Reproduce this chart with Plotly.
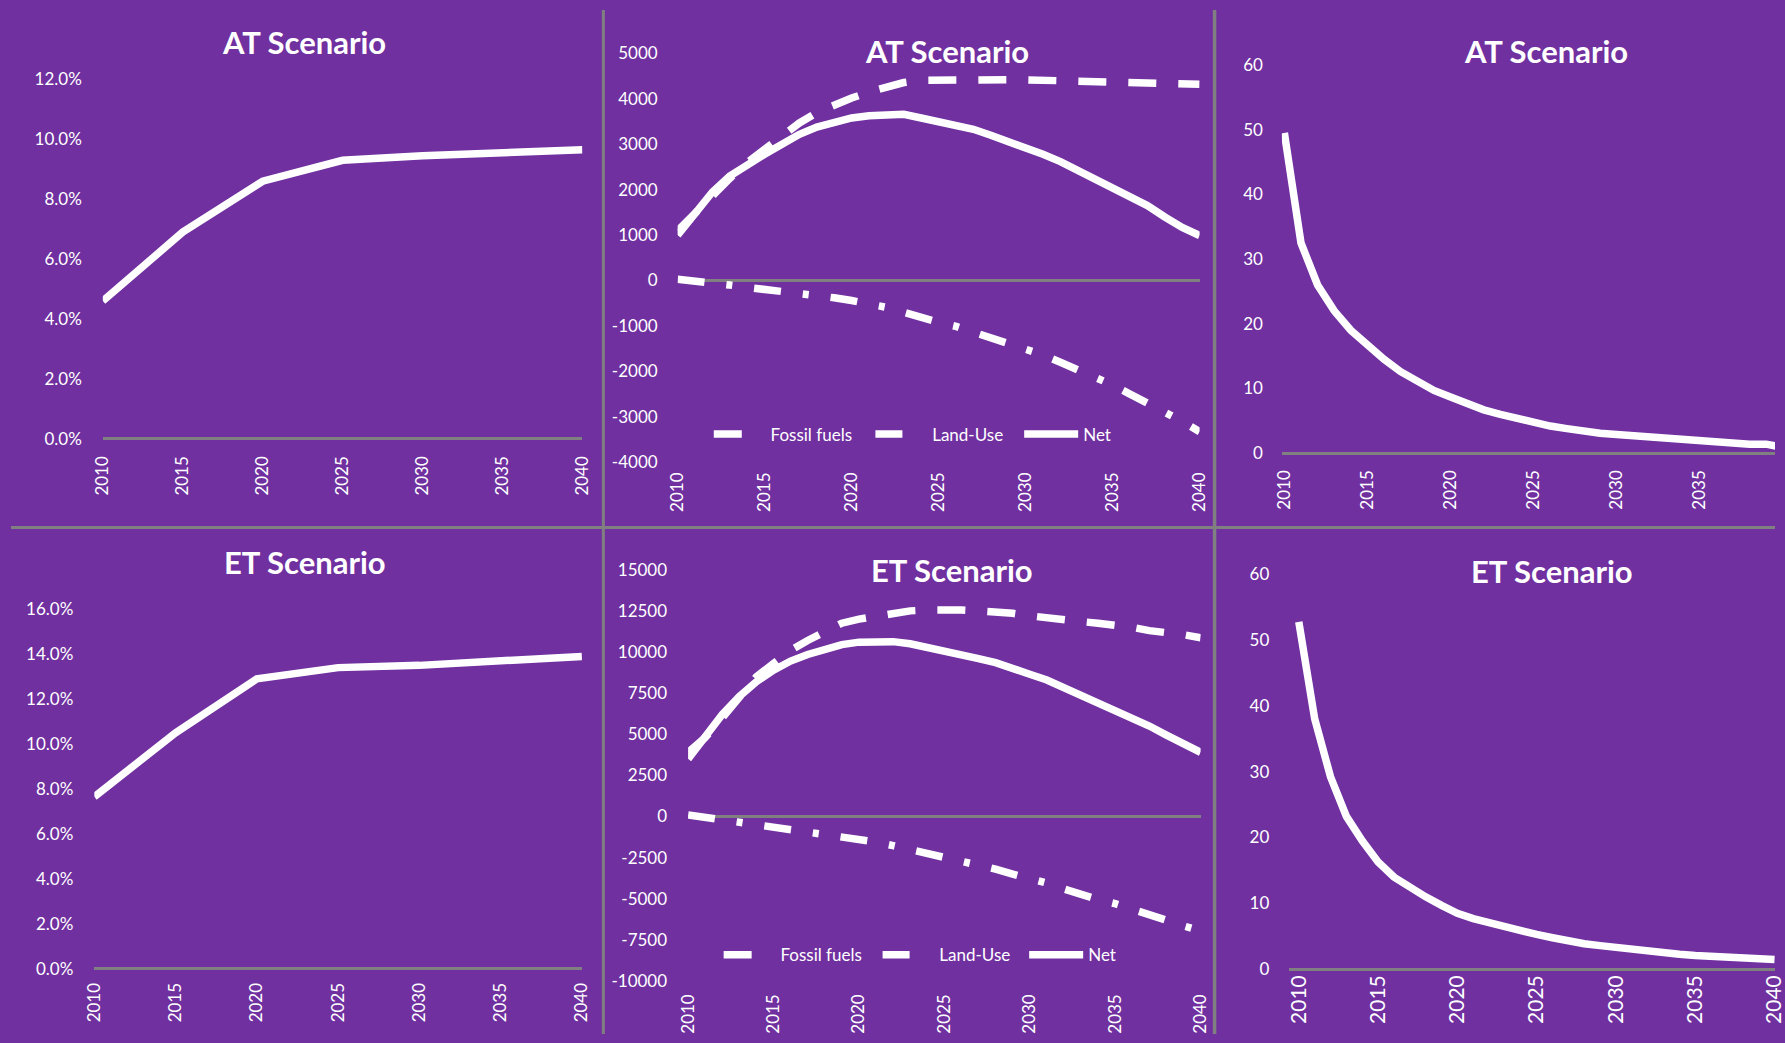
import plotly.graph_objects as go

# Figure fills the window; the page adds an 8px body margin and the capture is
# rescaled, so reference pixel positions are mapped through SX/SY and OFF.
W, H = 1785, 1043
OFF = 8
SX = (W + 2 * OFF) / W
SY = (H + 2 * OFF) / H
PURPLE = "#7030A0"
GRAY = "#808080"
FONT = "Lato"

# ---------------- data ----------------
years5 = [2010, 2015, 2020, 2025, 2030, 2035, 2040]
years = list(range(2010, 2041))

at_share = [0.046, 0.069, 0.086, 0.093, 0.0945, 0.0955, 0.0965]
et_share = [0.0765, 0.105, 0.129, 0.134, 0.135, 0.137, 0.139]

at_fossil = [1100, 1500, 1850, 2250, 2600, 2900, 3200, 3470, 3700, 3880, 4020, 4150, 4270,
             4360, 4410, 4420, 4420, 4420, 4420, 4420, 4420, 4410, 4400, 4390, 4380, 4380,
             4380, 4370, 4360, 4340, 4320]
at_landuse = [30, 0, -60, -100, -150, -190, -230, -270, -320, -380, -440, -510, -590, -700,
              -830, -920, -1010, -1130, -1250, -1380, -1500, -1640, -1800, -1960, -2130,
              -2300, -2500, -2720, -2900, -3100, -3330]
at_net = [1000, 1500, 1950, 2300, 2550, 2780, 3000, 3220, 3380, 3500, 3580, 3630, 3660, 3660,
          3580, 3500, 3420, 3330, 3200, 3070, 2930, 2780, 2620, 2430, 2250, 2050, 1850, 1650,
          1400, 1170, 990]

et_fossil = [3900, 4800, 6000, 7300, 8500, 9300, 10100, 10700, 11200, 11750, 12000, 12200,
             12400, 12500, 12550, 12600, 12550, 12500, 12450, 12350, 12200, 12050, 12000,
             11850, 11750, 11650, 11500, 11300, 11200, 11050, 10870]
et_landuse = [100, -50, -200, -320, -450, -600, -720, -850, -1000, -1150, -1330, -1550, -1770,
              -2000, -2200, -2450, -2650, -2900, -3200, -3500, -3750, -4050, -4400, -4750,
              -5050, -5300, -5600, -5950, -6300, -6650, -6950]
et_net = [3500, 4900, 6200, 7300, 8200, 8900, 9450, 9850, 10200, 10450, 10600, 10650, 10630,
          10500, 10300, 10100, 9850, 9600, 9350, 9050, 8650, 8300, 7850, 7350, 6900, 6450,
          6000, 5500, 4950, 4400, 3900]

at_ratio = [49.5, 32.5, 26.0, 22.0, 19.0, 16.6, 14.5, 12.6, 11.0, 9.7, 8.7, 7.6, 6.7, 6.0, 5.3,
            4.6, 4.2, 3.8, 3.4, 3.1, 2.9, 2.7, 2.5, 2.3, 2.1, 1.8, 1.6, 1.6, 1.4, 1.4, 0.9]
et_ratio = [52.7, 38.0, 29.2, 23.2, 19.5, 16.3, 14.0, 12.4, 11.0, 9.7, 8.5, 7.7, 7.1, 6.3, 5.8,
            5.3, 4.8, 4.3, 3.9, 3.6, 3.3, 3.0, 2.8, 2.5, 2.3, 2.1, 2.0, 1.8, 1.6, 1.6, 1.5]

x_ticks = [2010, 2015, 2020, 2025, 2030, 2035, 2040]
share_at_ticks = [0, 0.02, 0.04, 0.06, 0.08, 0.10, 0.12]
share_et_ticks = [0, 0.02, 0.04, 0.06, 0.08, 0.10, 0.12, 0.14, 0.16]
em_at_ticks = [-4000, -3000, -2000, -1000, 0, 1000, 2000, 3000, 4000, 5000]
em_at_text = ["-4000", "-3000", "-2000", "-1000", "0", "1000", "2000", "3000", "4000", "5000"]
em_et_ticks = [-10000, -7500, -5000, -2500, 0, 2500, 5000, 7500, 10000, 12500, 15000]
em_et_text = ["-10000", "-7500", "-5000", "-2500", "0", "2500", "5000", "7500", "10000",
              "12500", "15000"]
ratio_ticks = [0, 10, 20, 30, 40, 50, 60]
series_names = ["Fossil fuels", "Land-Use", "Net"]
titles = ["AT Scenario", "ET Scenario"]


# ---------------- geometry helpers (inputs in reference pixels) ----------------
def fx(rx):
    return (rx * SX - OFF) / W


def fy(ry):
    return 1 - (ry * SY - OFF) / H


RIGHT_REF = (W + OFF) / SX


def xaxis_geom(p2010, p2040, r0, r1):
    k = (p2040 - p2010) / 30.0
    f = lambda v: p2010 + (v - 2010) * k
    if f(r1) > RIGHT_REF:
        r1 = 2010 + (RIGHT_REF - p2010) / k
    return [max(0, fx(f(r0))), min(1, fx(f(r1)))], [r0, r1]


def ydom(pa, va, pb, vb, r0, r1):
    g = lambda v: pa + (v - va) * (pb - pa) / (vb - va)
    return [max(0, fy(g(r0))), min(1, fy(g(r1)))]


tickfont = dict(family=FONT, size=17, color="white")

panels = [
    dict(n=1, px=(100, 581), xr=(2010, 2040), py=(438, 0, 77.5, 0.12), yr=(-0.001, 0.1205),
         xso=10, yso=20, xfs=17),
    dict(n=2, px=(676.5, 1200), xr=(2010, 2040), py=(461.5, -4000, 51.5, 5000), yr=(-4020, 5050),
         xso=5, yso=19, xfs=17),
    dict(n=3, px=(1285, 1785), xr=(2009.85, 2040), py=(452.5, 0, 63, 60), yr=(-0.25, 60.5),
         xso=11, yso=18, xfs=17),
    dict(n=4, px=(91.5, 580.5), xr=(2010, 2040), py=(969.5, 0, 609, 0.16), yr=(-0.0013, 0.1605),
         xso=7, yso=20, xfs=17),
    dict(n=5, px=(687, 1201), xr=(2010, 2040), py=(982, -10000, 569.4, 15000), yr=(-10050, 15100),
         xso=8, yso=20, xfs=17),
    dict(n=6, px=(1299.5, 1776.6), xr=(2009.4, 2040.34), py=(970.3, 0, 573.4, 60), yr=(-0.1, 60.5),
         xso=0, yso=19, xfs=21),
]

layout = dict(
    width=W, height=H,
    margin=dict(l=0, r=0, t=0, b=0),
    paper_bgcolor=PURPLE,
    plot_bgcolor="rgba(0,0,0,0)",
    font=dict(family=FONT, color="white"),
    hovermode=False,
)

ytickcfg = {
    1: dict(tickvals=share_at_ticks, tickformat=".1%"),
    2: dict(tickvals=em_at_ticks, ticktext=em_at_text),
    3: dict(tickvals=ratio_ticks),
    4: dict(tickvals=share_et_ticks, tickformat=".1%"),
    5: dict(tickvals=em_et_ticks, ticktext=em_et_text),
    6: dict(tickvals=ratio_ticks),
}

for p in panels:
    n = p["n"]
    sfx = "" if n == 1 else str(n)
    xd, xrng = xaxis_geom(p["px"][0], p["px"][1], *p["xr"])
    layout["xaxis" + sfx] = dict(
        domain=xd, range=xrng,
        anchor="y" + sfx, tickvals=x_ticks, tickangle=-90, ticks="",
        showgrid=False, zeroline=False, showline=False,
        tickfont=dict(family=FONT, size=p["xfs"], color="white"),
        ticklabelstandoff=int(p["xso"]), ticklabeloverflow="allow", fixedrange=True,
    )
    layout["yaxis" + sfx] = dict(
        domain=ydom(*p["py"], *p["yr"]), range=list(p["yr"]),
        anchor="x" + sfx, ticks="", showgrid=False, showline=False,
        zeroline=True, zerolinecolor=GRAY, zerolinewidth=2.5,
        tickfont=tickfont, ticklabelstandoff=int(p["yso"]), fixedrange=True,
        **ytickcfg[n],
    )

fig = go.Figure()
LW = 7.5
white = "white"

fig.add_trace(go.Scatter(x=years5, y=at_share, mode="lines", line=dict(color=white, width=LW),
                         xaxis="x", yaxis="y", showlegend=False))
fig.add_trace(go.Scatter(x=years5, y=et_share, mode="lines", line=dict(color=white, width=LW),
                         xaxis="x4", yaxis="y4", showlegend=False))
fig.add_trace(go.Scatter(x=years, y=at_ratio, mode="lines", line=dict(color=white, width=LW),
                         xaxis="x3", yaxis="y3", showlegend=False))
fig.add_trace(go.Scatter(x=years, y=et_ratio, mode="lines", line=dict(color=white, width=LW),
                         xaxis="x6", yaxis="y6", showlegend=False))

NB = "\u00a0" * 5
dashes = ["28px,22px", "27px,22px,6px,22px", "solid"]
for (ax, ay, data, legs) in [("x2", "y2", (at_fossil, at_landuse, at_net), ("legend", "legend2", "legend3")),
                             ("x5", "y5", (et_fossil, et_landuse, et_net), ("legend4", "legend5", "legend6"))]:
    for i in range(3):
        nm = series_names[i] if i == 2 else NB + series_names[i]
        fig.add_trace(go.Scatter(x=years, y=data[i], mode="lines", name=nm,
                                 line=dict(color=white, width=LW, dash=dashes[i]),
                                 xaxis=ax, yaxis=ay, legend=legs[i], showlegend=True))

# legends (one per entry to mimic Excel spacing)
leg_pos = {
    "legend": (712.7, 433.7, 30), "legend2": (874.8, 433.7, 30), "legend3": (1024, 433.7, 54),
    "legend4": (722.6, 956, 30), "legend5": (882, 956, 30), "legend6": (1029, 956, 54),
}
for k, (lx, ly, iw) in leg_pos.items():
    layout[k] = dict(x=fx(lx) - 5 / W, y=fy(ly), xanchor="left", yanchor="middle",
                     bgcolor="rgba(0,0,0,0)", borderwidth=0, itemwidth=iw,
                     font=dict(family=FONT, size=17, color="white"))

# titles
title_pos = [(301.5, 43, titles[0]), (946.8, 52.4, titles[0]), (1547, 52.4, titles[0]),
             (303, 565, titles[1]), (952, 573, titles[1]), (1553.6, 573.4, titles[1])]
annotations = []
for tx, ty, t in title_pos:
    annotations.append(dict(x=fx(tx), y=fy(ty) + 3 / H, xref="paper", yref="paper",
                            text=t, showarrow=False, xanchor="center", yanchor="middle",
                            font=dict(family=FONT, size=31, color="white", weight="bold")))
layout["annotations"] = annotations

# gray panel separators
shapes = [
    dict(type="line", xref="paper", yref="paper", x0=fx(602), x1=fx(602), y0=0, y1=1,
         line=dict(color=GRAY, width=3), layer="below"),
    dict(type="line", xref="paper", yref="paper", x0=fx(1215), x1=fx(1215), y0=0, y1=1,
         line=dict(color=GRAY, width=3.5), layer="below"),
    dict(type="line", xref="paper", yref="paper", x0=0, x1=1, y0=fy(527), y1=fy(527),
         line=dict(color=GRAY, width=3), layer="below"),
]
layout["shapes"] = shapes

fig.update_layout(**layout)
fig.write_html("out.html")
